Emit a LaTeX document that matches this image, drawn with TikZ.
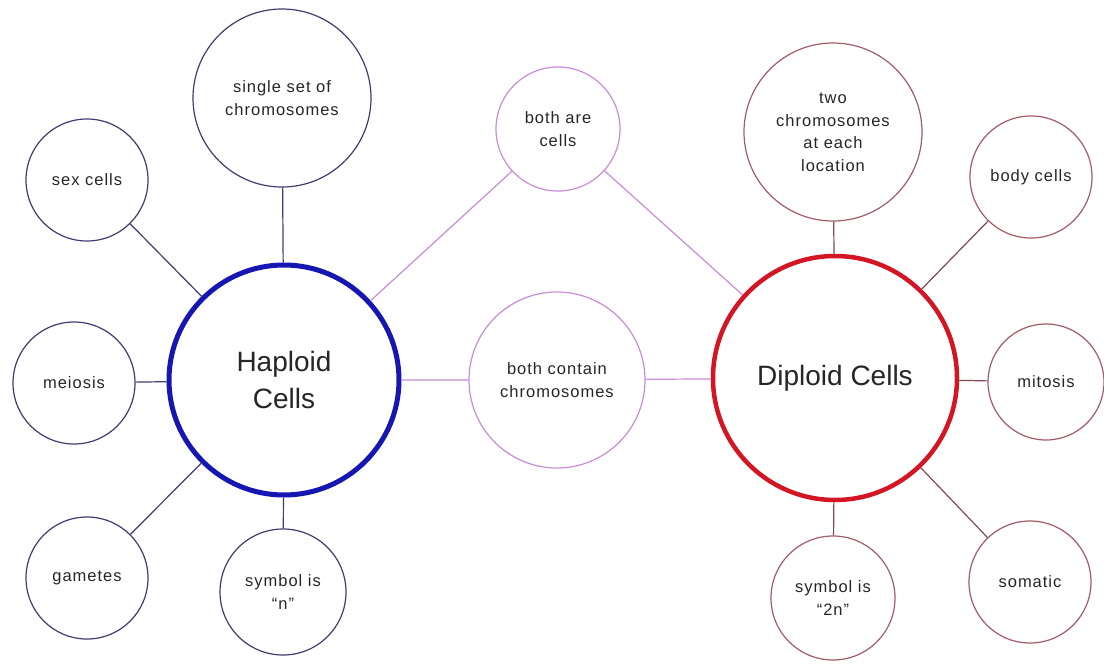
\documentclass[tikz,border=0pt]{standalone}
\usepackage{fontspec}
\setmainfont{Liberation Sans}
\newfontfamily\bubblefont[LetterSpace=6]{Liberation Sans}

\definecolor{hapblue}{RGB}{22,22,178}
\definecolor{hapedge}{RGB}{62,62,112}
\definecolor{dipred}{RGB}{212,22,36}
\definecolor{dipedge}{RGB}{162,92,104}
\definecolor{bothedge}{RGB}{200,140,216}
\definecolor{txtgray}{RGB}{38,38,38}

\tikzset{
  bubble/.style={circle, draw, line width=1.2pt, inner sep=0pt, align=center,
    text=txtgray, font=\bubblefont\fontsize{16.5}{22.5}\selectfont},
  bigcell/.style={circle, draw, inner sep=0pt, align=center,
    text=txtgray, font=\fontsize{28}{37}\selectfont},
}

\begin{document}
\begin{tikzpicture}[x=1pt, y=-1pt]

  \useasboundingbox[fill=white] (0,0) rectangle (1104,664);

  % Las dos celulas principales
  \node[bigcell, draw=hapblue, line width=5pt, minimum size=230pt] (hap) at (284,380) {Haploid\\Cells};
  \node[bigcell, draw=dipred, line width=4.5pt, minimum size=244pt] (dip) at (835,378) {Diploid Cells};

  % Rasgos de las celulas haploides
  \node[bubble, draw=hapedge, minimum size=178pt] (single) at (282,98) {single set of\\chromosomes};
  \node[bubble, draw=hapedge, minimum size=122pt] (sex) at (87,180) {sex cells};
  \node[bubble, draw=hapedge, minimum size=122pt] (meiosis) at (74,383) {meiosis};
  \node[bubble, draw=hapedge, minimum size=122pt] (gametes) at (87,578) {gametes};
  \node[bubble, draw=hapedge, minimum size=126pt] (symn) at (283,592) {symbol is\\\textquotedblleft n\textquotedblright};

  % Lo que comparten
  \node[bubble, draw=bothedge, minimum size=124pt] (arecells) at (558,129) {both are\\cells};
  \node[bubble, draw=bothedge, minimum size=176pt] (contain) at (557,380) {both contain\\chromosomes};

  % Rasgos de las celulas diploides
  \node[bubble, draw=dipedge, minimum size=178pt] (two) at (833,132) {two\\chromosomes\\at each\\location};
  \node[bubble, draw=dipedge, minimum size=122pt] (body) at (1031,177) {body cells};
  \node[bubble, draw=dipedge, minimum size=116pt] (mitosis) at (1046,382) {mitosis};
  \node[bubble, draw=dipedge, minimum size=122pt] (somatic) at (1030,582) {somatic};
  \node[bubble, draw=dipedge, minimum size=124pt] (symtwo) at (833,598) {symbol is\\\textquotedblleft 2n\textquotedblright};

  % Conectores
  \foreach \n in {single,sex,meiosis,gametes,symn}{
    \draw[hapedge, line width=1.2pt] (hap) -- (\n);
  }
  \foreach \n in {two,body,mitosis,somatic,symtwo}{
    \draw[dipedge!80!black, line width=1.2pt] (dip) -- (\n);
  }
  \foreach \n in {arecells,contain}{
    \draw[bothedge, line width=1.2pt] (hap) -- (\n) -- (dip);
  }

\end{tikzpicture}
\end{document}
